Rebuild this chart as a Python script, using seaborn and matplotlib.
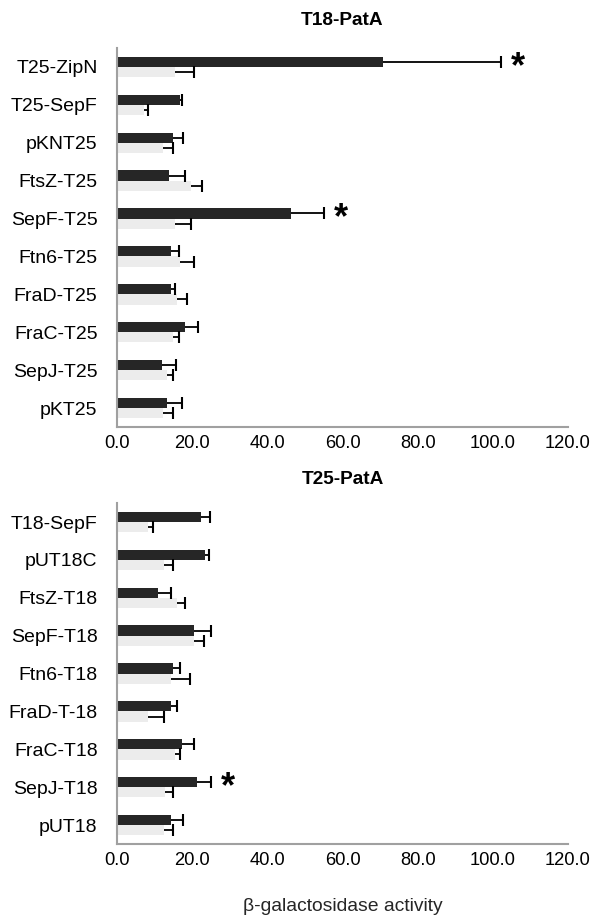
import matplotlib
matplotlib.use('Agg')
import matplotlib.pyplot as plt
import seaborn as sns
import numpy as np
import pandas as pd

sns.set_style('white')
plt.rcParams['font.family'] = ['Liberation Sans', 'DejaVu Sans']
plt.rcParams['text.color'] = 'black'
plt.rcParams['xtick.color'] = 'black'
plt.rcParams['ytick.color'] = 'black'

# top panel: T18-PatA
top_labels = ['T25-ZipN', 'T25-SepF', 'pKNT25', 'FtsZ-T25', 'SepF-T25',
              'Ftn6-T25', 'FraD-T25', 'FraC-T25', 'SepJ-T25', 'pKT25']
top_dark = [70.7, 16.8, 14.8, 13.9, 46.3, 14.4, 14.4, 18.2, 11.9, 13.2]
top_dark_err = [31.4, 0.6, 2.8, 4.2, 8.7, 2.1, 1.0, 3.4, 3.8, 4.2]
top_light = [15.4, 7.2, 12.3, 19.8, 15.4, 16.8, 15.9, 14.8, 13.2, 12.3]
top_light_err = [5.1, 1.0, 2.7, 2.7, 4.3, 3.7, 2.6, 1.8, 1.8, 2.7]
top_stars = ['T25-ZipN', 'SepF-T25']

# bottom panel: T25-PatA
bot_labels = ['T18-SepF', 'pUT18C', 'FtsZ-T18', 'SepF-T18', 'Ftn6-T18',
              'FraD-T-18', 'FraC-T18', 'SepJ-T18', 'pUT18']
bot_dark = [22.3, 23.3, 10.9, 20.4, 14.9, 14.4, 17.4, 21.2, 14.4]
bot_dark_err = [2.5, 1.2, 3.5, 4.6, 1.9, 1.5, 3.1, 3.8, 3.2]
bot_light = [8.3, 12.4, 15.9, 20.4, 14.4, 8.3, 15.3, 12.8, 12.4]
bot_light_err = [1.4, 2.6, 2.3, 2.8, 5.1, 4.3, 1.5, 2.0, 2.4]
bot_stars = ['SepJ-T18']

xticks = [0, 20, 40, 60, 80, 100, 120]

DARK = '#262626'
LIGHT = '#ececec'
SPINE = '#a0a0a0'


def one_sided_err(ax, x, y, err):
    x = np.asarray(x)
    err = np.asarray(err)
    ax.hlines(y, x, x + err, color='black', linewidth=1.3, zorder=3)
    ax.plot(x + err, y, linestyle='none', marker='|', markersize=8,
            markeredgewidth=1.5, color='black', zorder=3)


def draw_panel(ax, labels, dark, dark_err, light, light_err, stars, title, pad):
    df = pd.DataFrame({
        'construct': labels * 2,
        'value': dark + light,
        'series': ['a'] * len(labels) + ['b'] * len(labels),
    })
    sns.barplot(data=df, y='construct', x='value', hue='series', order=labels,
                hue_order=['a', 'b'], palette=[DARK, LIGHT], orient='h',
                width=0.54, errorbar=None, legend=False, ax=ax, saturation=1,
                linewidth=0)
    ypos = np.arange(len(labels))
    off = 0.54 / 4
    one_sided_err(ax, dark, ypos - off, dark_err)
    one_sided_err(ax, light, ypos + off, light_err)
    for s in stars:
        i = labels.index(s)
        xe = dark[i] + dark_err[i]
        ax.text(xe + 4.5, i - off + 0.15, '*', fontsize=26, fontweight='bold',
                ha='center', va='center')
    ax.set_xlim(0, 120)
    ax.set_ylim(len(labels) - 0.5, -0.5)
    ax.set_xticks(xticks)
    ax.set_xticklabels([f'{t:.1f}' for t in xticks], fontsize=13.2)
    ax.tick_params(axis='y', labelsize=14, length=0, pad=14)
    ax.tick_params(axis='x', length=0, pad=6)
    ax.set_ylabel('')
    ax.set_xlabel('')
    ax.set_title(title, fontsize=13.7, fontweight='bold', pad=pad)
    for sp in ['top', 'right']:
        ax.spines[sp].set_visible(False)
    for sp in ['left', 'bottom']:
        ax.spines[sp].set_color(SPINE)
        ax.spines[sp].set_linewidth(1.5)


fig = plt.figure(figsize=(5.91, 9.18), dpi=100)
ax1 = fig.add_axes([0.198, 0.5349, 0.763, 0.4128])
ax2 = fig.add_axes([0.198, 0.0806, 0.763, 0.3714])

draw_panel(ax1, top_labels, top_dark, top_dark_err, top_light, top_light_err,
           top_stars, 'T18-PatA', 16.5)
draw_panel(ax2, bot_labels, bot_dark, bot_dark_err, bot_light, bot_light_err,
           bot_stars, 'T25-PatA', 14)
ax2.set_xlabel('β-galactosidase activity', fontsize=13.9, labelpad=20.5)

fig.savefig('out.png', dpi=100, facecolor='white')
